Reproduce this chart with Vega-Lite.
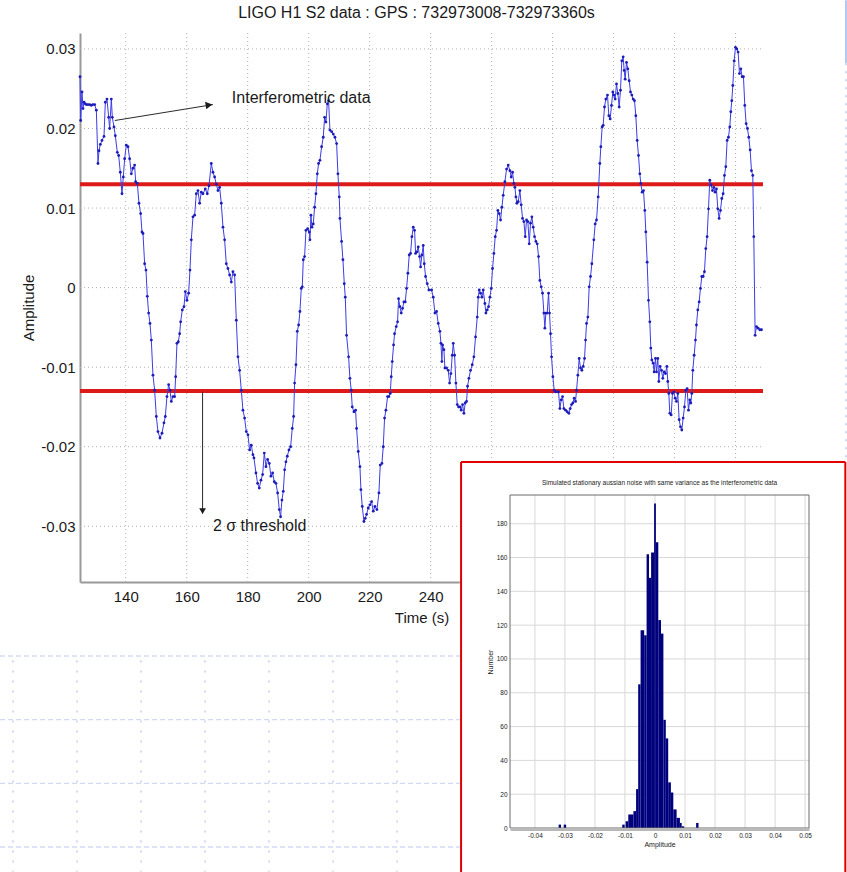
{
"$schema": "https://vega.github.io/schema/vega-lite/v6.json",
"background": "white",
"width": 847, "height": 872,
"autosize": {"type": "none"},
"padding": 0,
"config": {
  "view": {"stroke": null},
  "font": "Liberation Sans",
  "axis": {"labelFont": "Liberation Sans", "titleFont": "Liberation Sans", "titleFontWeight": "normal", "labelColor": "#1a1a1a", "titleColor": "#1a1a1a"},
  "title": {"font": "Liberation Sans", "fontWeight": "normal", "color": "#1a1a1a"}
},
"title": {"text": "LIGO H1 S2 data : GPS : 732973008-732973360s", "fontSize": 16, "frame": "group", "anchor": "middle", "offset": -22, "dx": -7},
"datasets": {
  "series": [
{"t":125,"a":0.0265},{"t":125.22,"a":0.021},{"t":125.66,"a":0.0246},{"t":125.98,"a":0.0225},{"t":126.31,"a":0.0233},{"t":126.7,"a":0.0231},{"t":127.08,"a":0.023},{"t":127.6,"a":0.023},{"t":128.17,"a":0.023},{"t":128.7,"a":0.0229},{"t":129.2,"a":0.023},{"t":129.81,"a":0.023},{"t":130.36,"a":0.0223},{"t":130.9,"a":0.0156},{"t":131.23,"a":0.0172},{"t":131.67,"a":0.018},{"t":132.21,"a":0.0185},{"t":132.87,"a":0.019},{"t":133.31,"a":0.0233},{"t":133.85,"a":0.0237},{"t":134.4,"a":0.0214},{"t":134.73,"a":0.02},{"t":135.27,"a":0.0237},{"t":135.6,"a":0.0214},{"t":136.15,"a":0.0202},{"t":136.58,"a":0.0191},{"t":137.24,"a":0.017},{"t":137.68,"a":0.0166},{"t":138.22,"a":0.0145},{"t":138.77,"a":0.0118},{"t":139.21,"a":0.0139},{"t":139.64,"a":0.0162},{"t":140.19,"a":0.0179},{"t":140.74,"a":0.0177},{"t":141.28,"a":0.0162},{"t":141.83,"a":0.0143},{"t":142.38,"a":0.015},{"t":142.92,"a":0.0154},{"t":143.25,"a":0.0133},{"t":143.8,"a":0.0131},{"t":144.34,"a":0.0106},{"t":144.89,"a":0.0093},{"t":145.33,"a":0.007},{"t":145.66,"a":0.0068},{"t":146.2,"a":0.003},{"t":146.64,"a":0.0022},{"t":147.08,"a":-0.0011},{"t":147.51,"a":-0.0032},{"t":147.95,"a":-0.0045},{"t":148.39,"a":-0.0066},{"t":148.93,"a":-0.011},{"t":149.48,"a":-0.0129},{"t":150.03,"a":-0.0162},{"t":150.57,"a":-0.0181},{"t":151.23,"a":-0.0189},{"t":151.89,"a":-0.0183},{"t":152.54,"a":-0.017},{"t":152.98,"a":-0.0162},{"t":153.52,"a":-0.0137},{"t":154.07,"a":-0.0122},{"t":154.51,"a":-0.0129},{"t":154.95,"a":-0.0143},{"t":155.49,"a":-0.0137},{"t":156.04,"a":-0.0137},{"t":156.37,"a":-0.0112},{"t":156.8,"a":-0.007},{"t":157.24,"a":-0.0068},{"t":157.68,"a":-0.0058},{"t":158.01,"a":-0.0043},{"t":158.55,"a":-0.0028},{"t":159.1,"a":-0.0024},{"t":159.54,"a":-0.0005},{"t":160.08,"a":-0.0016},{"t":160.63,"a":-0.0007},{"t":161.07,"a":0.0022},{"t":161.5,"a":0.006},{"t":162.05,"a":0.0089},{"t":162.6,"a":0.0091},{"t":163.14,"a":0.0118},{"t":163.69,"a":0.0122},{"t":164.23,"a":0.0106},{"t":164.78,"a":0.012},{"t":165.33,"a":0.0118},{"t":166.09,"a":0.0124},{"t":166.75,"a":0.0118},{"t":167.3,"a":0.0128},{"t":168.06,"a":0.0156},{"t":168.61,"a":0.0145},{"t":169.15,"a":0.0139},{"t":169.7,"a":0.013},{"t":170.25,"a":0.0122},{"t":170.79,"a":0.0126},{"t":171.34,"a":0.0106},{"t":171.89,"a":0.0076},{"t":172.43,"a":0.006},{"t":172.98,"a":0.003},{"t":173.52,"a":0.0024},{"t":174.07,"a":0.0016},{"t":174.62,"a":0.0007},{"t":175.16,"a":0.002},{"t":175.71,"a":0.0016},{"t":176.26,"a":-0.0041},{"t":176.8,"a":-0.0087},{"t":177.35,"a":-0.0104},{"t":177.9,"a":-0.0129},{"t":178.44,"a":-0.0154},{"t":178.99,"a":-0.0164},{"t":179.54,"a":-0.0181},{"t":180.08,"a":-0.0185},{"t":180.63,"a":-0.0204},{"t":181.17,"a":-0.0198},{"t":181.72,"a":-0.021},
{"t":182.05,"a":-0.0214},{"t":182.71,"a":-0.0233},{"t":183.25,"a":-0.0246},{"t":183.8,"a":-0.0252},{"t":184.35,"a":-0.0242},{"t":184.89,"a":-0.0235},{"t":185.44,"a":-0.0208},{"t":185.99,"a":-0.0225},{"t":186.53,"a":-0.0216},{"t":187.08,"a":-0.0221},{"t":187.63,"a":-0.0237},{"t":188.17,"a":-0.0233},{"t":188.72,"a":-0.0244},{"t":189.26,"a":-0.0246},{"t":189.81,"a":-0.0258},{"t":190.36,"a":-0.0279},{"t":190.79,"a":-0.0288},{"t":191.23,"a":-0.0267},{"t":191.67,"a":-0.0256},{"t":192.11,"a":-0.0229},{"t":192.54,"a":-0.0219},{"t":192.98,"a":-0.0212},{"t":193.53,"a":-0.0204},{"t":194.07,"a":-0.02},{"t":194.62,"a":-0.0177},{"t":195.06,"a":-0.0162},{"t":195.38,"a":-0.012},{"t":195.82,"a":-0.0097},{"t":196.26,"a":-0.0055},{"t":196.7,"a":-0.0047},{"t":197.13,"a":-0.003},{"t":197.57,"a":-0.0001},{"t":197.9,"a":0.0001},{"t":198.23,"a":0.0035},{"t":198.66,"a":0.0039},{"t":199.1,"a":0.0072},{"t":199.65,"a":0.0074},{"t":200.19,"a":0.007},{"t":200.41,"a":0.006},{"t":200.74,"a":0.0091},{"t":201.07,"a":0.0076},{"t":201.5,"a":0.008},{"t":201.94,"a":0.0101},{"t":202.38,"a":0.0118},{"t":202.82,"a":0.0143},{"t":203.25,"a":0.0156},{"t":203.69,"a":0.016},{"t":204.24,"a":0.0177},{"t":204.78,"a":0.0189},{"t":205.22,"a":0.0214},{"t":205.66,"a":0.0208},{"t":206.1,"a":0.0231},{"t":206.53,"a":0.0235},{"t":206.97,"a":0.0198},{"t":207.52,"a":0.0196},{"t":208.06,"a":0.0193},{"t":208.61,"a":0.0189},{"t":209.16,"a":0.0181},{"t":209.59,"a":0.0143},{"t":210.03,"a":0.0114},{"t":210.25,"a":0.0087},{"t":210.79,"a":0.0058},{"t":211.23,"a":0.0035},{"t":211.67,"a":0.0005},{"t":212,"a":-0.0012},{"t":212.43,"a":-0.006},{"t":213.09,"a":-0.0087},{"t":213.53,"a":-0.0114},{"t":213.96,"a":-0.0129},{"t":214.29,"a":-0.015},{"t":214.84,"a":-0.0156},{"t":215.38,"a":-0.0154},{"t":215.71,"a":-0.0177},{"t":216.26,"a":-0.0206},{"t":216.81,"a":-0.0225},{"t":217.13,"a":-0.0254},{"t":217.57,"a":-0.0275},{"t":218.12,"a":-0.0294},{"t":218.55,"a":-0.029},{"t":218.99,"a":-0.0285},{"t":219.54,"a":-0.0277},{"t":220.08,"a":-0.0273},{"t":220.63,"a":-0.0269},{"t":221.18,"a":-0.0281},{"t":221.72,"a":-0.0275},{"t":222.38,"a":-0.0279},{"t":223.04,"a":-0.0258},{"t":223.47,"a":-0.0223},{"t":224.02,"a":-0.0221},{"t":224.46,"a":-0.02},{"t":224.89,"a":-0.0164},{"t":225.33,"a":-0.0154},{"t":225.88,"a":-0.0137},{"t":226.31,"a":-0.0137},{"t":226.75,"a":-0.0133},{"t":227.08,"a":-0.0112},{"t":227.41,"a":-0.0093},{"t":227.84,"a":-0.0072},{"t":228.17,"a":-0.0058},{"t":228.72,"a":-0.0049},{"t":229.15,"a":-0.0043},{"t":229.48,"a":-0.0014},{"t":229.92,"a":-0.0024},{"t":230.36,"a":-0.0032},{"t":230.79,"a":-0.0026},{"t":231.23,"a":-0.0018},{"t":231.67,"a":-0.0018},{"t":232.11,"a":-0.0001},{"t":232.54,"a":0.0018},{"t":232.98,"a":0.0041},{"t":233.42,"a":0.0043},{"t":233.85,"a":0.0064},{"t":234.29,"a":0.0076},{"t":234.73,"a":0.0072},{"t":235.06,"a":0.0043},{"t":235.49,"a":0.0045},{"t":235.93,"a":0.0051},{"t":236.37,"a":0.0039},{"t":236.7,"a":0.0026},{"t":237.13,"a":0.0041},{"t":237.57,"a":0.0053},{"t":237.9,"a":0.003},{"t":238.34,"a":0.0014},{"t":238.88,"a":0.0005},{"t":239.43,"a":-0.0003},
{"t":240.31,"a":-0.0003},{"t":240.85,"a":-0.0012},{"t":241.4,"a":-0.0032},{"t":241.94,"a":-0.003},{"t":242.49,"a":-0.0045},{"t":243.04,"a":-0.0055},{"t":243.37,"a":-0.007},{"t":243.69,"a":-0.0093},{"t":243.91,"a":-0.0072},{"t":244.35,"a":-0.0078},{"t":244.68,"a":-0.0101},{"t":245.22,"a":-0.0101},{"t":245.77,"a":-0.0104},{"t":246.21,"a":-0.012},{"t":246.64,"a":-0.0108},{"t":247.08,"a":-0.0085},{"t":247.41,"a":-0.007},{"t":247.85,"a":-0.0085},{"t":248.28,"a":-0.012},{"t":248.72,"a":-0.0147},{"t":249.16,"a":-0.015},{"t":249.59,"a":-0.015},{"t":250.03,"a":-0.0154},{"t":250.47,"a":-0.0147},{"t":250.91,"a":-0.0158},{"t":251.34,"a":-0.0145},{"t":251.78,"a":-0.0143},{"t":252.11,"a":-0.0124},{"t":252.55,"a":-0.0114},{"t":253.09,"a":-0.0104},{"t":253.64,"a":-0.0097},{"t":254.18,"a":-0.0087},{"t":254.73,"a":-0.0062},{"t":255.28,"a":-0.0037},{"t":255.61,"a":-0.0012},{"t":255.93,"a":-0.0003},{"t":256.37,"a":-0.0007},{"t":256.81,"a":-0.0012},{"t":257.25,"a":-0.0003},{"t":257.79,"a":-0.002},{"t":258.12,"a":-0.0032},{"t":258.56,"a":-0.0028},{"t":258.99,"a":-0.0024},{"t":259.43,"a":-0.0012},{"t":259.87,"a":-0.0001},{"t":260.3,"a":0.0024},{"t":260.74,"a":0.0043},{"t":261.18,"a":0.0064},{"t":261.62,"a":0.0072},{"t":262.05,"a":0.0097},{"t":262.49,"a":0.0093},{"t":262.93,"a":0.0085},{"t":263.37,"a":0.0101},{"t":263.8,"a":0.0116},{"t":264.35,"a":0.0133},{"t":264.9,"a":0.0149},{"t":265.44,"a":0.0154},{"t":265.99,"a":0.0147},{"t":266.42,"a":0.0139},{"t":266.86,"a":0.0145},{"t":267.3,"a":0.0131},{"t":267.63,"a":0.0126},{"t":267.96,"a":0.0114},{"t":268.28,"a":0.0106},{"t":268.72,"a":0.0108},{"t":269.27,"a":0.0122},{"t":269.7,"a":0.0104},{"t":270.14,"a":0.0087},{"t":270.58,"a":0.0083},{"t":271.02,"a":0.0064},{"t":271.45,"a":0.0085},{"t":271.89,"a":0.0083},{"t":272.33,"a":0.0055},{"t":272.76,"a":0.0081},{"t":273.2,"a":0.0089},{"t":273.64,"a":0.0076},{"t":274.08,"a":0.0064},{"t":274.51,"a":0.0058},{"t":274.95,"a":0.0055},{"t":275.39,"a":0.0039},{"t":275.82,"a":0.0009},{"t":276.26,"a":0.0001},{"t":276.7,"a":-0.0007},{"t":277.14,"a":-0.0032},{"t":277.46,"a":-0.0051},{"t":277.79,"a":-0.0032},{"t":278.23,"a":-0.0032},{"t":278.67,"a":-0.0007},{"t":278.99,"a":-0.0032},{"t":279.32,"a":-0.0058},{"t":279.65,"a":-0.0087},{"t":280.09,"a":-0.0112},{"t":280.52,"a":-0.0129},{"t":280.96,"a":-0.0131},{"t":281.51,"a":-0.0131},{"t":281.94,"a":-0.0131},{"t":282.38,"a":-0.0152},{"t":282.82,"a":-0.0141},{"t":283.26,"a":-0.0137},{"t":283.69,"a":-0.0152},{"t":284.24,"a":-0.0154},{"t":284.79,"a":-0.0156},{"t":285.33,"a":-0.0158},{"t":285.77,"a":-0.0152},{"t":286.21,"a":-0.0147},{"t":286.64,"a":-0.0145},{"t":287.08,"a":-0.0139},{"t":287.52,"a":-0.0143},{"t":287.85,"a":-0.0129},{"t":288.28,"a":-0.011},{"t":288.72,"a":-0.0089},{"t":289.16,"a":-0.0101},{"t":289.6,"a":-0.0104},{"t":290.03,"a":-0.0099},{"t":290.47,"a":-0.0089},{"t":290.8,"a":-0.0066},{"t":291.13,"a":-0.0045},{"t":291.56,"a":-0.0037},{"t":292,"a":0.0001},{"t":292.44,"a":0.0014},{"t":292.87,"a":0.003},
{"t":293.52,"a":0.006},{"t":293.96,"a":0.008},{"t":294.4,"a":0.0085},{"t":294.94,"a":0.0114},{"t":295.49,"a":0.0156},{"t":295.82,"a":0.0177},{"t":296.25,"a":0.0202},{"t":296.58,"a":0.0204},{"t":297.02,"a":0.0227},{"t":297.46,"a":0.0237},{"t":298,"a":0.0242},{"t":298.44,"a":0.0216},{"t":298.88,"a":0.0212},{"t":299.31,"a":0.0229},{"t":299.75,"a":0.0246},{"t":300.08,"a":0.0242},{"t":300.52,"a":0.0237},{"t":300.95,"a":0.0256},{"t":301.39,"a":0.0244},{"t":301.83,"a":0.0227},{"t":302.26,"a":0.0248},{"t":302.7,"a":0.0285},{"t":303.14,"a":0.029},{"t":303.47,"a":0.0273},{"t":303.79,"a":0.0262},{"t":304.23,"a":0.0283},{"t":304.67,"a":0.0275},{"t":305.11,"a":0.026},{"t":305.54,"a":0.0246},{"t":305.98,"a":0.0242},{"t":306.42,"a":0.0237},{"t":306.85,"a":0.0235},{"t":307.29,"a":0.0216},{"t":307.73,"a":0.0185},{"t":308.17,"a":0.0166},{"t":308.6,"a":0.0143},{"t":308.93,"a":0.0131},{"t":309.37,"a":0.012},{"t":309.81,"a":0.0122},{"t":310.24,"a":0.0097},{"t":310.57,"a":0.007},{"t":311.01,"a":0.0032},{"t":311.45,"a":-0.0016},{"t":311.88,"a":-0.0043},{"t":312.21,"a":-0.0076},{"t":312.54,"a":-0.0091},{"t":312.98,"a":-0.0095},{"t":313.3,"a":-0.0106},{"t":313.74,"a":-0.0089},{"t":314.07,"a":-0.0106},{"t":314.5,"a":-0.0089},{"t":314.83,"a":-0.0118},{"t":315.27,"a":-0.0099},{"t":315.71,"a":-0.0104},{"t":316.14,"a":-0.0114},{"t":316.58,"a":-0.0106},{"t":317.02,"a":-0.0108},{"t":317.46,"a":-0.0099},{"t":317.78,"a":-0.0118},{"t":318.11,"a":-0.0133},{"t":318.44,"a":-0.0158},{"t":318.88,"a":-0.016},{"t":319.31,"a":-0.0133},{"t":319.75,"a":-0.0131},{"t":320.19,"a":-0.0139},{"t":320.63,"a":-0.0143},{"t":321.06,"a":-0.0133},{"t":321.5,"a":-0.0166},{"t":321.94,"a":-0.0175},{"t":322.37,"a":-0.0179},{"t":322.81,"a":-0.0164},{"t":323.25,"a":-0.015},{"t":323.69,"a":-0.0129},{"t":324.12,"a":-0.0127},{"t":324.56,"a":-0.0154},{"t":325,"a":-0.0141},{"t":325.32,"a":-0.0145},{"t":325.65,"a":-0.0133},{"t":325.98,"a":-0.0104},{"t":326.42,"a":-0.0085},{"t":326.85,"a":-0.0066},{"t":327.18,"a":-0.0047},{"t":327.62,"a":-0.0028},{"t":328.06,"a":-0.0018},{"t":328.49,"a":-0.0001},{"t":328.93,"a":0.0014},{"t":329.37,"a":0.0014},{"t":329.8,"a":0.002},{"t":330.24,"a":0.0049},{"t":330.68,"a":0.0064},{"t":331.12,"a":0.0099},{"t":331.55,"a":0.0135},{"t":331.99,"a":0.0129},{"t":332.43,"a":0.0122},{"t":332.86,"a":0.0126},{"t":333.3,"a":0.012},{"t":333.74,"a":0.0124},{"t":334.18,"a":0.0099},{"t":334.61,"a":0.0087},{"t":335.05,"a":0.0097},{"t":335.49,"a":0.0112},{"t":335.93,"a":0.0118},{"t":336.36,"a":0.0141},{"t":336.8,"a":0.0152},{"t":337.24,"a":0.0185},{"t":337.67,"a":0.0189},{"t":338.11,"a":0.0202},{"t":338.44,"a":0.0221},{"t":338.77,"a":0.0235},{"t":339.1,"a":0.0254},{"t":339.53,"a":0.0285},{"t":339.97,"a":0.0302},{"t":340.41,"a":0.03},{"t":340.84,"a":0.0296},{"t":341.28,"a":0.0269},{"t":341.72,"a":0.0275},{"t":342.16,"a":0.0265},{"t":342.59,"a":0.0265},{"t":343.03,"a":0.0229},{"t":343.47,"a":0.0206},{"t":343.9,"a":0.02},{"t":344.34,"a":0.0189},{"t":344.78,"a":0.0173},{"t":345.22,"a":0.0147},{"t":345.65,"a":0.0141},{"t":345.98,"a":0.0064},{"t":346.42,"a":-0.006},{"t":346.86,"a":-0.0049},{"t":347.4,"a":-0.0051},{"t":347.95,"a":-0.0053},{"t":348.5,"a":-0.0053}
  ],
  "hist": [
{"lo":-0.0321,"hi":-0.0313,"n":2},{"lo":-0.0304,"hi":-0.0296,"n":2},{"lo":-0.0109,"hi":-0.0101,"n":2},{"lo":-0.0098,"hi":-0.0089,"n":4},{"lo":-0.0089,"hi":-0.0072,"n":8},{"lo":-0.0072,"hi":-0.0063,"n":10},{"lo":-0.0063,"hi":-0.0056,"n":23},{"lo":-0.0056,"hi":-0.0048,"n":85},{"lo":-0.0048,"hi":-0.0036,"n":117},{"lo":-0.0036,"hi":-0.0028,"n":114},{"lo":-0.0028,"hi":-0.002,"n":162},{"lo":-0.002,"hi":-0.0013,"n":148},{"lo":-0.0013,"hi":-0.0003,"n":163},{"lo":-0.0003,"hi":0.0003,"n":192},{"lo":0.0003,"hi":0.0011,"n":169},{"lo":0.0011,"hi":0.002,"n":123},{"lo":0.002,"hi":0.0028,"n":115},{"lo":0.0028,"hi":0.0036,"n":64},{"lo":0.0036,"hi":0.0044,"n":53},{"lo":0.0044,"hi":0.0053,"n":27},{"lo":0.0053,"hi":0.0061,"n":21},{"lo":0.0061,"hi":0.0072,"n":11},{"lo":0.0072,"hi":0.0083,"n":6},{"lo":0.0083,"hi":0.0089,"n":3},{"lo":0.0089,"hi":0.0097,"n":1},{"lo":0.0137,"hi":0.0145,"n":3}
  ]
},
"resolve": {"scale": {"x": "independent", "y": "independent"}, "axis": {"x": "independent", "y": "independent"}},
"layer": [
{
  "layer": [
    {
      "data": {"values": [{"gy": -0.03}, {"gy": -0.02}, {"gy": -0.01}, {"gy": 0}, {"gy": 0.01}, {"gy": 0.02}, {"gy": 0.03}]},
      "mark": {"type": "rule", "color": "#b0b0b0", "strokeDash": [1, 3], "strokeWidth": 1},
      "encoding": {
        "y": {"field": "gy", "type": "quantitative", "scale": {"domain": [-0.037, 0.032], "range": [582, 33], "nice": false, "zero": false}},
        "x": {"datum": 125},
        "x2": {"datum": 349}
      }
    },
    {
      "data": {"values": [{"gx": 140}, {"gx": 160}, {"gx": 180}, {"gx": 200}, {"gx": 220}, {"gx": 240}, {"gx": 260}, {"gx": 280}, {"gx": 300}, {"gx": 320}, {"gx": 340}]},
      "mark": {"type": "rule", "color": "#b0b0b0", "strokeDash": [1, 3], "strokeWidth": 1},
      "encoding": {
        "x": {"field": "gx", "type": "quantitative", "scale": {"domain": [125, 349], "range": [80, 763], "nice": false, "zero": false}},
        "y": {"datum": -0.037},
        "y2": {"datum": 0.032}
      }
    },
    {
      "data": {"values": [{"thr": 0.013}, {"thr": -0.013}]},
      "mark": {"type": "rule", "color": "#dd1a1a", "strokeWidth": 4},
      "encoding": {
        "y": {"field": "thr", "type": "quantitative", "scale": {"domain": [-0.037, 0.032], "range": [582, 33], "nice": false, "zero": false}},
        "x": {"datum": 125},
        "x2": {"datum": 349}
      }
    },
    {
      "data": {"name": "series"},
      "mark": {"type": "line", "color": "#3c3ce6", "strokeWidth": 1, "point": {"filled": true, "color": "#1c1cb8", "size": 8}},
      "encoding": {
        "x": {"field": "t", "type": "quantitative", "scale": {"domain": [125, 349], "range": [80, 763], "nice": false, "zero": false},
              "axis": {"orient": "bottom", "offset": -290, "title": "Time (s)", "values": [140,160,180,200,220,240], "format": "d", "grid": false, "ticks": false, "domainColor": "#999999", "domainWidth": 2, "labelFontSize": 15, "labelPadding": 7, "titleFontSize": 15, "titlePadding": 6, "zindex": 0}},
        "y": {"field": "a", "type": "quantitative", "scale": {"domain": [-0.037, 0.032], "range": [582, 33], "nice": false, "zero": false},
              "axis": {"orient": "left", "offset": -80, "title": "Amplitude", "values": [-0.03,-0.02,-0.01,0,0.01,0.02,0.03], "labelExpr": "datum.value == 0 ? '0' : (datum.value < 0 ? '-' : '') + format(abs(datum.value), '.2f')", "grid": false, "ticks": false, "domainColor": "#999999", "domainWidth": 2, "labelFontSize": 15, "labelPadding": 5, "titleFontSize": 15, "titlePadding": 4, "zindex": 0}}
      }
    },
    {
      "data": {"values": [{}]},
      "mark": {"type": "rule", "color": "#2a2a2a", "strokeWidth": 1},
      "encoding": {"x": {"datum": 136.4}, "y": {"datum": 0.021}, "x2": {"datum": 168.6}, "y2": {"datum": 0.023}}
    },
    {
      "data": {"values": [{}]},
      "mark": {"type": "point", "shape": "triangle-right", "filled": true, "color": "#1a1a1a", "size": 60, "angle": -9, "opacity": 1},
      "encoding": {"x": {"datum": 167.3}, "y": {"datum": 0.02295}}
    },
    {
      "data": {"values": [{}]},
      "mark": {"type": "rule", "color": "#2a2a2a", "strokeWidth": 1},
      "encoding": {"x": {"datum": 165.2}, "y": {"datum": -0.0131}, "y2": {"datum": -0.0284}}
    },
    {
      "data": {"values": [{}]},
      "mark": {"type": "point", "shape": "triangle-down", "filled": true, "color": "#1a1a1a", "size": 45, "opacity": 1},
      "encoding": {"x": {"datum": 165.2}, "y": {"datum": -0.0281}}
    },
    {
      "data": {"values": [{"label": "Interferometric data"}]},
      "mark": {"type": "text", "align": "left", "baseline": "middle", "fontSize": 16, "color": "#1a1a1a"},
      "encoding": {"x": {"datum": 174.8}, "y": {"datum": 0.0238}, "text": {"field": "label"}}
    },
    {
      "data": {"values": [{"label": "2 σ threshold"}]},
      "mark": {"type": "text", "align": "left", "baseline": "middle", "fontSize": 16, "color": "#1a1a1a"},
      "encoding": {"x": {"datum": 168.6}, "y": {"datum": -0.0299}, "text": {"field": "label"}}
    }
  ]
},
{
  "layer": [
    {
      "data": {"values": [{"v": 0}, {"v": 1}, {"v": 2}, {"v": 3}]},
      "mark": {"type": "rule", "color": "#d2daf6", "strokeDash": [5, 3], "strokeWidth": 1.3},
      "encoding": {
        "y": {"field": "v", "type": "quantitative", "scale": {"domain": [0, 3], "range": [656, 847], "nice": false, "zero": false}, "axis": null},
        "x": {"datum": -0.203, "scale": {"domain": [0, 6], "range": [13, 397], "nice": false, "zero": false}, "axis": null},
        "x2": {"datum": 6.984}
      }
    },
    {
      "data": {"values": [{"u": 0}, {"u": 1}, {"u": 2}, {"u": 3}, {"u": 4}, {"u": 5}, {"u": 6}]},
      "mark": {"type": "rule", "color": "#c6d0f4", "strokeDash": [2, 8], "strokeWidth": 1.6},
      "encoding": {
        "x": {"field": "u", "type": "quantitative", "scale": {"domain": [0, 6], "range": [13, 397], "nice": false, "zero": false}, "axis": null},
        "y": {"datum": 0.07, "axis": null},
        "y2": {"datum": 3.39}
      }
    },
    {
      "data": {"values": [{}]},
      "mark": {"type": "rule", "color": "#b4c6f2", "strokeWidth": 2},
      "encoding": {"x": {"datum": 13.016, "axis": null}, "y": {"datum": -10.3, "axis": null}, "y2": {"datum": -9.31}}
    },
    {
      "data": {"values": [{}]},
      "mark": {"type": "rule", "color": "#cdd7f7", "strokeWidth": 2, "strokeDash": [2, 6]},
      "encoding": {"x": {"datum": 13.016, "axis": null}, "y": {"datum": -9.31, "axis": null}, "y2": {"datum": -3.08}}
    }
  ]
},
{
  "layer": [
    {
      "data": {"values": [{}]},
      "mark": {"type": "rect", "fill": "white"},
      "encoding": {
        "x": {"datum": -0.0650, "scale": {"domain": [-0.0483, 0.0513], "range": [510, 809], "nice": false, "zero": false}},
        "x2": {"datum": 0.0640},
        "y": {"datum": 216.5, "scale": {"domain": [0, 197], "range": [828, 495], "nice": false, "zero": false}},
        "y2": {"datum": -26}
      }
    },
    {
      "data": {"values": [{"g": -0.04}, {"g": -0.03}, {"g": -0.02}, {"g": -0.01}, {"g": 0}, {"g": 0.01}, {"g": 0.02}, {"g": 0.03}, {"g": 0.04}, {"g": 0.05}]},
      "mark": {"type": "rule", "color": "#d8d8d8", "strokeWidth": 1},
      "encoding": {
        "x": {"field": "g", "type": "quantitative", "scale": {"domain": [-0.0483, 0.0513], "range": [510, 809], "nice": false, "zero": false}},
        "y": {"datum": 0},
        "y2": {"datum": 197}
      }
    },
    {
      "data": {"values": [{"h": 20}, {"h": 40}, {"h": 60}, {"h": 80}, {"h": 100}, {"h": 120}, {"h": 140}, {"h": 160}, {"h": 180}]},
      "mark": {"type": "rule", "color": "#d8d8d8", "strokeWidth": 1},
      "encoding": {
        "y": {"field": "h", "type": "quantitative", "scale": {"domain": [0, 197], "range": [828, 495], "nice": false, "zero": false}},
        "x": {"datum": -0.0483},
        "x2": {"datum": 0.0513}
      }
    },
    {
      "data": {"name": "hist"},
      "mark": {"type": "rect", "color": "#00007c"},
      "encoding": {
        "x": {"field": "lo", "type": "quantitative", "scale": {"domain": [-0.0483, 0.0513], "range": [510, 809], "nice": false, "zero": false},
              "axis": {"orient": "bottom", "offset": -43, "title": "Amplitude", "values": [-0.04,-0.03,-0.02,-0.01,0,0.01,0.02,0.03,0.04,0.05], "labelExpr": "datum.value == 0 ? '0' : (datum.value < 0 ? '-' : '') + format(abs(datum.value), '.2f')", "grid": false, "ticks": false, "domainColor": "#b8b8b8", "domainWidth": 3, "labelFontSize": 6.5, "labelPadding": 3, "titleFontSize": 7, "titlePadding": 2, "zindex": 1}},
        "x2": {"field": "hi"},
        "y": {"field": "n", "type": "quantitative", "scale": {"domain": [0, 197], "range": [828, 495], "nice": false, "zero": false},
              "axis": {"orient": "left", "offset": -510, "title": "Number", "values": [0,20,40,60,80,100,120,140,160,180], "grid": false, "ticks": false, "domain": false, "labelFontSize": 6.5, "labelPadding": 3, "titleFontSize": 7, "titlePadding": 3, "zindex": 1}},
        "y2": {"datum": 0}
      }
    },
    {
      "data": {"values": [{}]},
      "mark": {"type": "rect", "fillOpacity": 0, "stroke": "#6a6a6a", "strokeWidth": 1},
      "encoding": {"x": {"datum": -0.0483}, "x2": {"datum": 0.0513}, "y": {"datum": 0}, "y2": {"datum": 197}}
    },
    {
      "data": {"values": [{"label": "Simulated stationary aussian noise with same variance as the interferometric data"}]},
      "mark": {"type": "text", "align": "center", "baseline": "middle", "fontSize": 6.5, "color": "#222222"},
      "encoding": {"x": {"datum": 0.0015}, "y": {"datum": 204}, "text": {"field": "label"}}
    },
    {
      "data": {"values": [{}]},
      "mark": {"type": "rule", "color": "#e00000", "strokeWidth": 2},
      "encoding": {"x": {"datum": -0.0646}, "y": {"datum": 216.5}, "y2": {"datum": -26}}
    },
    {
      "data": {"values": [{}]},
      "mark": {"type": "rule", "color": "#e00000", "strokeWidth": 2},
      "encoding": {"x": {"datum": 0.0634}, "y": {"datum": 216.5}, "y2": {"datum": -26}}
    },
    {
      "data": {"values": [{}]},
      "mark": {"type": "rule", "color": "#e00000", "strokeWidth": 2},
      "encoding": {"x": {"datum": -0.0646}, "x2": {"datum": 0.0634}, "y": {"datum": 216.5}}
    }
  ]
}
]
}
